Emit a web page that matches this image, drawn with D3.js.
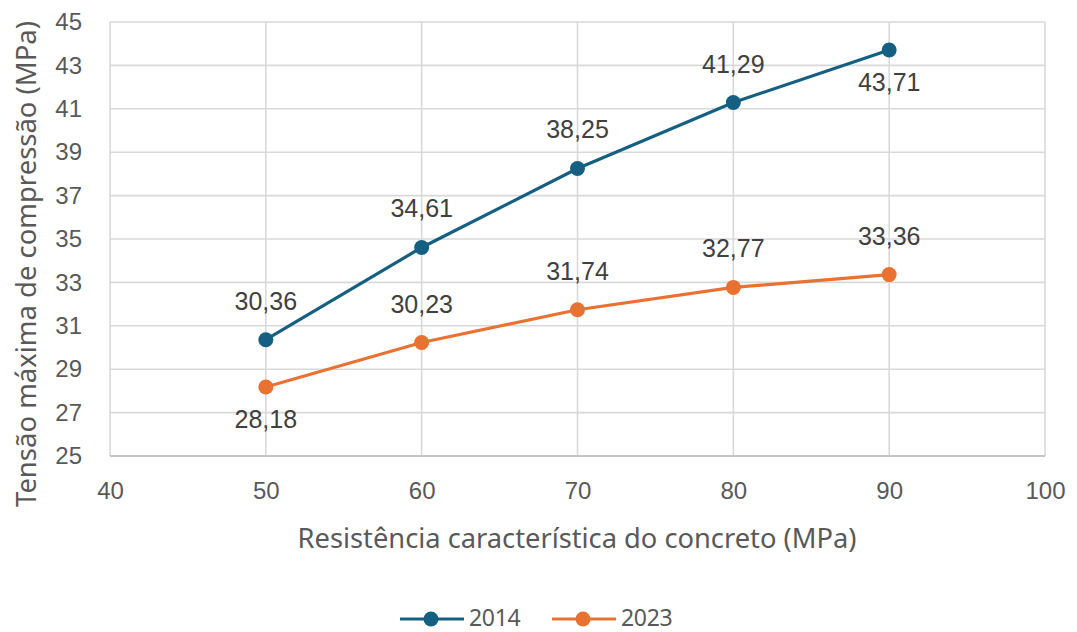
<!DOCTYPE html>
<html>
<head>
<meta charset="utf-8">
<script src="https://cdn.jsdelivr.net/npm/d3@7"></script>
<style>
  html, body { margin: 0; padding: 0; background: #fff; }
  svg { display: block; }
</style>
</head>
<body>
<svg id="chart" width="1077" height="632"></svg>
<script>
// Data
const fck = [50, 60, 70, 80, 90];
const values2014 = [30.36, 34.61, 38.25, 41.29, 43.71];
const values2023 = [28.18, 30.23, 31.74, 32.77, 33.36];
const seriesNames = ["2014", "2023"];
const seriesColors = ["#156082", "#E97132"];
// label placement per point: "above" or "below"
const labelPos2014 = ["above", "above", "above", "above", "below"];
const labelPos2023 = ["below", "above", "above", "above", "above"];
const xTicks = [40, 50, 60, 70, 80, 90, 100];
const yTicks = [25, 27, 29, 31, 33, 35, 37, 39, 41, 43, 45];

const svg = d3.select("#chart");
const W = 1077, H = 632;
const margin = { left: 110, right: W - 1045, top: 22, bottom: H - 456 };

const x = d3.scaleLinear().domain([40, 100]).range([margin.left, W - margin.right]);
const y = d3.scaleLinear().domain([25, 45]).range([H - margin.bottom, margin.top]);

const fmt = v => v.toFixed(2).replace(".", ",");
const gridColor = "#d9d9d9";
const textColor = "#595959";
const numFont = "'Liberation Sans', Arial, sans-serif";
const titleFont = "'Noto Sans', 'Open Sans', sans-serif";

// gridlines
svg.append("g")
  .selectAll("line")
  .data(yTicks)
  .join("line")
  .attr("x1", x(40)).attr("x2", x(100))
  .attr("y1", d => y(d)).attr("y2", d => y(d))
  .attr("stroke", gridColor).attr("stroke-width", 1.6);

svg.append("g")
  .selectAll("line")
  .data(xTicks)
  .join("line")
  .attr("y1", y(25)).attr("y2", y(45))
  .attr("x1", d => x(d)).attr("x2", d => x(d))
  .attr("stroke", gridColor).attr("stroke-width", 1.6);

// bottom axis line
svg.append("line")
  .attr("x1", x(40)).attr("x2", x(100)).attr("y1", y(25)).attr("y2", y(25))
  .attr("stroke", "#c4c4c4").attr("stroke-width", 1.8);

// axes (tick labels only)
const yAxis = d3.axisLeft(y).tickValues(yTicks).tickSize(0).tickPadding(28);
const gy = svg.append("g").attr("transform", `translate(${x(40)},0)`).call(yAxis);
gy.select(".domain").remove();
gy.selectAll("text")
  .attr("fill", textColor)
  .style("font-family", numFont)
  .style("font-size", "24px");

const xAxis = d3.axisBottom(x).tickValues(xTicks).tickSize(0).tickPadding(26);
const gx = svg.append("g").attr("transform", `translate(0,${y(25)})`).call(xAxis);
gx.select(".domain").remove();
gx.selectAll("text")
  .attr("fill", textColor)
  .style("font-family", numFont)
  .style("font-size", "24px");

// axis titles, sized to their span
function fitText(sel, target, base) {
  sel.style("font-size", base + "px");
  const len = sel.node().getComputedTextLength();
  if (len > 0) sel.style("font-size", (base * target / len).toFixed(2) + "px");
}

const xTitle = svg.append("text")
  .attr("x", 577)
  .attr("y", 548)
  .attr("text-anchor", "middle")
  .attr("fill", textColor)
  .style("font-family", titleFont)
  .text("Resistência característica do concreto (MPa)");
fitText(xTitle, 559, 26);

const yTitle = svg.append("text")
  .attr("transform", "translate(36,264) rotate(-90)")
  .attr("text-anchor", "middle")
  .attr("fill", textColor)
  .style("font-family", titleFont)
  .text("Tensão máxima de compressão (MPa)");
fitText(yTitle, 486, 24);

// series
const series = [
  { name: seriesNames[0], color: seriesColors[0], values: values2014, pos: labelPos2014 },
  { name: seriesNames[1], color: seriesColors[1], values: values2023, pos: labelPos2023 }
];

const line = d3.line().x(d => x(d.x)).y(d => y(d.y));

series.forEach(s => {
  const pts = fck.map((v, i) => ({ x: v, y: s.values[i], pos: s.pos[i] }));
  const g = svg.append("g");
  g.append("path")
    .datum(pts)
    .attr("d", line)
    .attr("fill", "none")
    .attr("stroke", s.color)
    .attr("stroke-width", 3.2);
  g.selectAll("circle")
    .data(pts)
    .join("circle")
    .attr("cx", d => x(d.x))
    .attr("cy", d => y(d.y))
    .attr("r", 7.5)
    .attr("fill", s.color);
  g.selectAll("text")
    .data(pts)
    .join("text")
    .attr("x", d => x(d.x))
    .attr("y", d => d.pos === "above" ? y(d.y) - 30 : y(d.y) + 41)
    .attr("text-anchor", "middle")
    .attr("fill", "#404040")
    .style("font-family", numFont)
    .style("font-size", "25px")
    .text(d => fmt(d.y));
});

// legend
const legendItems = [
  { name: seriesNames[0], color: seriesColors[0], x0: 400 },
  { name: seriesNames[1], color: seriesColors[1], x0: 552 }
];
const ly = 619;
legendItems.forEach(it => {
  const g = svg.append("g");
  g.append("line")
    .attr("x1", it.x0).attr("x2", it.x0 + 64)
    .attr("y1", ly).attr("y2", ly)
    .attr("stroke", it.color).attr("stroke-width", 3.2);
  g.append("circle")
    .attr("cx", it.x0 + 31).attr("cy", ly).attr("r", 7.5)
    .attr("fill", it.color);
  g.append("text")
    .attr("x", it.x0 + 69).attr("y", 626)
    .attr("fill", textColor)
    .style("font-family", titleFont)
    .style("font-size", "23px")
    .style("letter-spacing", "-0.3px")
    .text(it.name);
});
</script>
</body>
</html>
